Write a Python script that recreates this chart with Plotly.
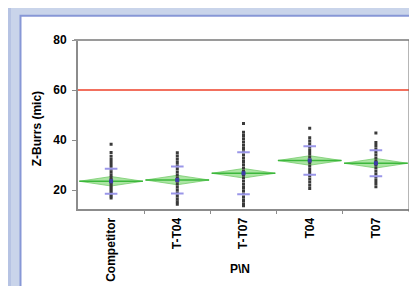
import plotly.graph_objects as go

categories = ["Competitor", "T-T04", "T-T07", "T04", "T07"]

competitor = [38.3, 35.0, 33.5, 32.2, 31.0, 29.8, 28.5, 27.3, 26.1, 25.0, 24.0, 23.2,
              22.4, 21.6, 20.8, 20.0, 19.2, 18.4, 17.6, 16.8]
t_t04 = [34.9, 33.6, 32.3, 31.0, 29.7, 28.5, 27.2, 26.0, 24.8, 23.6, 22.4, 21.2,
         20.0, 18.8, 17.6, 16.4, 15.3, 14.3]
t_t07 = [46.6, 43.1, 41.8, 40.5, 39.2, 37.9, 36.6, 35.3, 34.0, 32.7, 31.4, 30.1,
         28.8, 27.5, 26.2, 24.9, 23.6, 22.3, 21.0, 19.7, 18.4, 17.1, 15.8, 14.5, 13.7]
t04 = [44.7, 40.9, 39.6, 38.4, 37.1, 35.8, 34.6, 33.3, 32.0, 30.8, 29.5, 28.2,
       27.0, 25.7, 24.4, 23.2, 21.9, 20.6]
t07 = [42.8, 39.0, 37.8, 36.5, 35.2, 34.0, 32.7, 31.4, 30.2, 28.9, 27.6, 26.4,
       25.1, 23.8, 22.6, 21.3]
groups = [competitor, t_t04, t_t07, t04, t07]

means = [23.5, 24.0, 26.7, 31.8, 30.7]
std_devs = [5.0, 5.4, 8.4, 5.7, 5.2]
ci_half = [1.9, 1.9, 1.9, 1.9, 1.9]
spec_limit = 60

y_ticks = [20, 40, 60, 80]

# layout geometry (pixels)
W, H = 417, 286
L, R, T, B = 70, 401, 32, 210


def px(p):
    return (p - L) / (R - L)


def py(p):
    return (B - p) / (B - T)


fig = go.Figure()

dw = 0.48
for i, (m, h) in enumerate(zip(means, ci_half)):
    fig.add_trace(go.Scatter(
        x=[i - dw, i, i + dw, i, i - dw],
        y=[m, m + h, m, m - h, m],
        fill="toself", fillcolor="rgba(150,222,140,0.8)",
        line=dict(color="rgba(120,205,110,0.8)", width=1),
        mode="lines", hoverinfo="skip", showlegend=False))
    fig.add_trace(go.Scatter(
        x=[i - dw, i + dw], y=[m, m], mode="lines",
        line=dict(color="#3cb83c", width=1.5),
        hoverinfo="skip", showlegend=False))

for i, vals in enumerate(groups):
    fig.add_trace(go.Scatter(
        x=[i] * len(vals), y=vals, mode="markers",
        marker=dict(symbol="square", size=3, color="#3a3a3a"),
        showlegend=False))

sd_x, sd_y = [], []
for i, (m, s) in enumerate(zip(means, std_devs)):
    sd_x += [i, i]
    sd_y += [m + s, m - s]
fig.add_trace(go.Scatter(
    x=sd_x, y=sd_y, mode="markers",
    marker=dict(symbol="line-ew", size=9, line=dict(color="#9a96e8", width=2)),
    showlegend=False))

fig.add_trace(go.Scatter(
    x=list(range(len(means))), y=means, mode="markers",
    marker=dict(symbol="square", size=4, color="#3d3da8"),
    showlegend=False))

shapes = [
    dict(type="rect", xref="paper", yref="paper", layer="below",
         x0=px(-5), x1=px(3), y0=py(300), y1=py(-5),
         fillcolor="#b6c3e3", line=dict(width=0)),
    dict(type="rect", xref="paper", yref="paper", layer="below",
         x0=px(12.5), x1=px(413.5), y0=py(300), y1=py(6.5),
         fillcolor="white", line=dict(color="#8797d6", width=2)),
    # spec line
    dict(type="line", xref="paper", yref="y", x0=0, x1=1, y0=spec_limit, y1=spec_limit,
         line=dict(color="#f2705e", width=2.2)),
    # top border
    dict(type="line", xref="paper", yref="paper", x0=px(66), x1=px(402), y0=1, y1=1,
         line=dict(color="#9a9a9a", width=2)),
    # right border
    dict(type="line", xref="paper", yref="paper", x0=px(402), x1=px(402), y0=py(213), y1=1,
         line=dict(color="#6e6e6e", width=3)),
]

annotations = [
    dict(text="Z-Burrs (mic)", xref="paper", yref="paper", x=px(29), y=py(126),
         textangle=-90, showarrow=False, xanchor="center", yanchor="middle",
         font=dict(family="Liberation Sans", size=12, color="black", weight="bold")),
    dict(text="P\\N", xref="paper", yref="paper", x=px(232), y=py(273),
         showarrow=False, xanchor="center", yanchor="middle",
         font=dict(family="Liberation Sans", size=12, color="black", weight="bold")),
]

fig.update_layout(
    width=W, height=H,
    margin=dict(l=L, r=W - R, t=T, b=H - B),
    paper_bgcolor="#c9d4ea", plot_bgcolor="rgba(0,0,0,0)",
    shapes=shapes, annotations=annotations,
    font=dict(family="Liberation Sans", size=12, color="black", weight="bold"),
)
fig.update_xaxes(
    range=[-0.5, 4.5], tickmode="array", tickvals=list(range(len(categories))),
    ticktext=categories, tickangle=-90, ticks="", showgrid=False, zeroline=False,
    showline=True, linecolor="#8c8c8c", linewidth=2, ticklabelstandoff=2,
    minor=dict(tickmode="array", tickvals=[0.5, 1.5, 2.5, 3.5, 4.5], ticks="outside",
               ticklen=3, tickcolor="#8c8c8c", tickwidth=1, showgrid=False),
    tickfont=dict(family="Liberation Sans", size=12, color="black", weight="bold"),
    fixedrange=True)
fig.update_yaxes(
    range=[12.4, 80], tickmode="array", tickvals=y_ticks, ticks="outside", ticklen=4,
    tickcolor="#8c8c8c", showgrid=False, zeroline=False, showline=True,
    linecolor="#8c8c8c", linewidth=2, ticklabelstandoff=3,
    tickfont=dict(family="Liberation Sans", size=12, color="black", weight="bold"),
    fixedrange=True)

fig.write_html("out.html", config={"displayModeBar": False})
